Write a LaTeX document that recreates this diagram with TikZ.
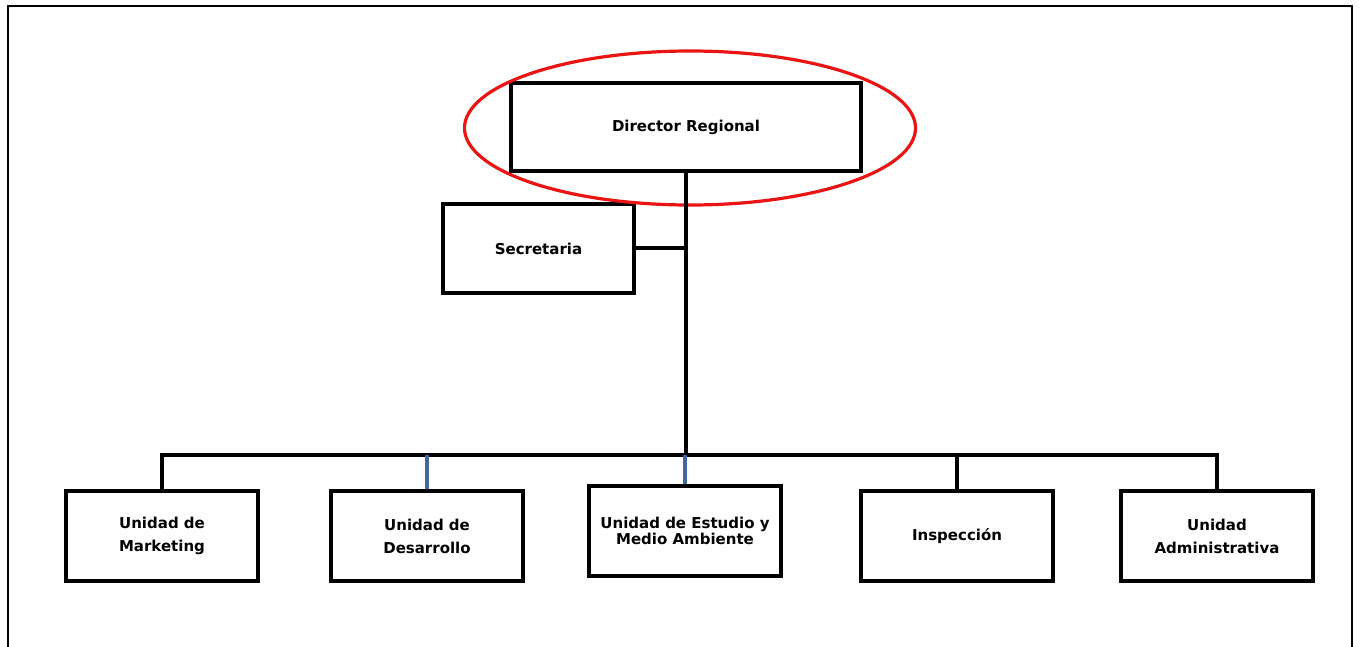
\documentclass[tikz,border=0pt]{standalone}
\usepackage{fontspec}
\setmainfont{DejaVu Sans}
\usetikzlibrary{shapes.geometric}
\definecolor{linkblue}{RGB}{65,105,155}
\definecolor{ovalred}{RGB}{235,20,20}
\begin{document}
\begin{tikzpicture}[x=1pt,y=-1pt,
  unitbox/.style={draw=black,line width=3.2pt,rectangle,minimum width=192pt,minimum height=90pt,
    align=center,font=\fontsize{15}{23}\selectfont\bfseries,inner sep=0pt},
  link/.style={draw=black,line width=3.2pt},
  bluelink/.style={draw=linkblue,line width=3.2pt},
  frame/.style={draw=black,line width=2.8pt}]
\useasboundingbox (0,0) rectangle (1359,646);
% outer frame
\coordinate (fbl) at (8,650);
\coordinate (ftl) at (8,6);
\coordinate (ftr) at (1352,6);
\coordinate (fbr) at (1352,650);
\draw[frame] (fbl) -- (ftl) -- (ftr) -- (fbr);
% nodes
\node[unitbox,minimum width=350pt,minimum height=88pt] (dir) at (686,127) {Director Regional};
\node[unitbox,minimum width=191pt,minimum height=89pt] (sec) at (538.5,248.5) {Secretaria};
\node[unitbox] (mkt) at (162,536) {Unidad de\\Marketing};
\node[unitbox] (des) at (427,536) {Unidad de\\Desarrollo};
\node[unitbox,font=\fontsize{15}{16.5}\selectfont\bfseries] (est) at (685,531) {Unidad de Estudio y\\Medio Ambiente};
\node[unitbox] (ins) at (957,536) {Inspección};
\node[unitbox] (adm) at (1217,536) {Unidad\\Administrativa};
% red oval
\node[draw=ovalred,line width=3.2pt,ellipse,minimum width=451pt,minimum height=154pt] (oval) at (690,128) {};
% connectors
\coordinate (bus) at (686,455);
\coordinate (secj) at (686,248);
\draw[link] (dir.south) -- (bus);
\draw[link] (sec.east |- secj) -- (secj);
\draw[link,line join=miter] (mkt.north) -- (mkt.north |- bus) -- (adm.north |- bus) -- (adm.north);
\draw[link] (ins.north) -- (ins.north |- bus);
\draw[bluelink] (des.north) -- (des.north |- bus);
\draw[bluelink] (est.north) -- (est.north |- bus);
\draw[link] (dir.south) -- (bus);
\end{tikzpicture}
\end{document}
